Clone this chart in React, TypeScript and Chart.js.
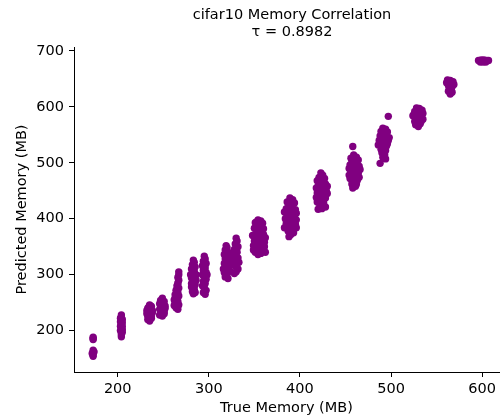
import React, { useEffect, useRef } from "react";
import { Chart, registerables } from "chart.js";

Chart.register(...registerables);

const TITLE_LINES = ["cifar10 Memory Correlation", "τ = 0.8982"];
const X_LABEL = "True Memory (MB)";
const Y_LABEL = "Predicted Memory (MB)";
const X_TICKS = [200, 300, 400, 500, 600];
const Y_TICKS = [200, 300, 400, 500, 600, 700];

const c172 = [[173,188],[173,184],[173,165],[173,161],[173,157],[173,154],[172,159],[174,162],[173,186]];
const c204 = [[204,228],[204,224],[205,220],[203,216],[204,212],[205,208],[204,204],[203,200],[205,197],[204,193],[204,189],[203,208],[205,214],[204,218],[203,222],[205,202],[204,196]];
const c235 = [[235,246],[237,243],[233,240],[236,238],[234,234],[238,232],[232,230],[236,228],[234,225],[237,222],[233,220],[235,217],[238,236],[232,236],[235,231],[236,244],[234,242],[237,226],[233,226],[235,222]];
const c248 = [[249,258],[247,254],[251,252],[246,248],[250,246],[248,242],[252,240],[246,238],[250,235],[248,232],[251,230],[246,228],[249,226],[252,244],[248,250],[250,238],[247,244],[251,234],[248,236]];
const c266 = [[267,305],[267,300],[266,295],[267,290],[266,285],[265,280],[267,276],[264,272],[266,268],[263,264],[267,262],[265,258],[262,255],[266,252],[264,248],[262,245],[267,246],[264,241],[266,238],[263,250],[265,262],[264,256],[266,244],[265,274],[266,282],[263,258]];
const c283 = [[283,326],[284,322],[282,318],[285,314],[281,310],[284,306],[282,302],[285,298],[281,294],[284,290],[282,286],[285,282],[281,278],[284,274],[282,270],[285,268],[283,266],[281,284],[286,300],[283,312],[283,296],[283,280],[286,290],[280,300]];
const c295 = [[295,333],[296,328],[294,324],[297,320],[293,316],[296,312],[294,308],[297,304],[293,300],[295,296],[297,292],[294,288],[296,284],[293,280],[295,276],[297,272],[294,268],[296,265],[295,318],[295,304],[295,290],[295,282],[298,300]];
const c319 = [[319,352],[320,348],[318,344],[321,340],[317,336],[320,332],[318,328],[321,324],[317,320],[320,316],[318,312],[321,308],[317,304],[320,300],[318,296],[321,293],[316,310],[323,318],[319,338],[319,326],[319,306],[323,330],[323,306],[319,298]];
const c330 = [[330,365],[331,360],[329,355],[332,350],[328,345],[331,340],[329,335],[332,330],[328,325],[331,320],[329,315],[332,310],[330,305],[328,302],[333,322],[330,346],[330,330],[330,314],[326,336],[326,318]];
const c355 = [[354,398],[357,396],[351,393],[359,392],[353,388],[356,386],[350,383],[360,382],[354,378],[357,376],[351,372],[360,372],[355,368],[352,364],[358,364],[350,360],[361,358],[354,356],[357,352],[352,348],[359,346],[355,344],[351,340],[357,338],[354,336],[361,350],[349,352],[355,384],[355,360],[348,370],[362,366],[349,344],[362,340],[355,350],[352,394]];
const c388 = [[389,437],[392,434],[386,430],[394,428],[388,424],[391,420],[385,418],[395,416],[389,412],[392,408],[386,406],[394,402],[388,398],[391,394],[385,392],[395,390],[389,386],[392,382],[387,378],[393,375],[390,372],[388,368],[384,400],[396,398],[390,426],[390,404],[390,388],[383,384],[396,384],[383,412],[396,410]];
const c423 = [[423,482],[425,478],[421,474],[427,472],[419,468],[424,465],[428,462],[420,458],[426,455],[422,452],[429,449],[419,446],[425,443],[421,440],[428,437],[423,434],[419,430],[426,428],[422,424],[428,421],[424,418],[420,417],[430,445],[418,455],[424,470],[424,448],[424,428],[418,438],[430,458],[422,462],[426,436]];
const c458 = [[458,529],[459,514],[462,510],[456,508],[464,505],[458,502],[461,498],[455,496],[465,494],[459,490],[462,486],[456,484],[464,481],[458,478],[461,474],[455,472],[463,469],[459,466],[457,462],[461,458],[458,455],[466,488],[454,490],[460,496],[460,482],[460,470],[454,478],[465,474],[457,500],[462,462]];
const c493 = [[497,583],[491,562],[494,560],[489,556],[496,555],[492,551],[488,548],[495,546],[491,542],[497,540],[489,537],[493,534],[486,532],[495,530],[491,526],[494,522],[490,518],[493,514],[491,510],[494,507],[488,499],[498,545],[492,544],[492,530],[492,518],[487,540],[496,534],[489,524]];
const c530 = [[528,598],[531,597],[534,594],[526,592],[530,590],[535,588],[525,586],[529,584],[533,582],[527,579],[531,577],[535,578],[524,584],[529,572],[532,570],[527,568],[530,565],[533,574],[530,582],[530,576],[532,588],[526,574]];
const c565 = [[562,648],[565,647],[568,645],[561,643],[566,641],[569,640],[563,638],[567,636],[564,633],[566,630],[563,628],[567,626],[565,623],[565,638],[565,644]];
const c601 = [[596,683],[599,684],[602,684],[605,683],[607,683],[598,680],[601,680],[604,680],[600,682],[603,682]];

const CLUSTERS = [c172, c204, c235, c248, c266, c283, c295, c319, c330, c355, c388, c423, c458, c493, c530, c565, c601];

const FONT = "'DejaVu Sans', sans-serif";
const PURPLE = "#800080";

const titlePlugin = {
  id: "customTitle",
  afterDraw(chart: any) {
    const ctx = chart.ctx;
    ctx.save();
    ctx.fillStyle = "#000";
    ctx.font = `14.5px ${FONT}`;
    ctx.textAlign = "center";
    ctx.textBaseline = "middle";
    ctx.fillText(TITLE_LINES[0], 292, 15);
    ctx.fillText(TITLE_LINES[1], 292, 32);
    ctx.restore();
  },
};

export default function App() {
  const ref = useRef<HTMLCanvasElement | null>(null);
  useEffect(() => {
    if (!ref.current) return;
    const data = CLUSTERS.flat().map(([x, y]) => ({ x, y }));
    const chart = new Chart(ref.current, {
      type: "scatter",
      data: {
        datasets: [
          {
            data,
            backgroundColor: PURPLE,
            borderColor: PURPLE,
            borderWidth: 0,
            pointRadius: 3.7,
          },
        ],
      },
      options: {
        animation: false,
        responsive: false,
        devicePixelRatio: 1,
        layout: { padding: { top: 47, right: 0, left: 0, bottom: 0 } },
        plugins: { legend: { display: false }, tooltip: { enabled: false }, title: { display: false } },
        scales: {
          x: {
            type: "linear",
            min: 152,
            max: 618.5,
            afterBuildTicks: (s: any) => {
              s.ticks = X_TICKS.map((v) => ({ value: v }));
            },
            afterFit: (s: any) => {
              s.height = 48;
            },
            ticks: { color: "#000", font: { family: FONT, size: 14.5 }, padding: 4, maxRotation: 0 },
            grid: { drawOnChartArea: false, tickLength: 5, color: "#000", tickColor: "#000" },
            border: { color: "#000", width: 1 },
            title: { display: true, text: X_LABEL, color: "#000", font: { family: FONT, size: 14.5 }, padding: { top: 0, bottom: 3 } },
          },
          y: {
            type: "linear",
            min: 126,
            max: 707,
            afterBuildTicks: (s: any) => {
              s.ticks = Y_TICKS.map((v) => ({ value: v }));
            },
            afterFit: (s: any) => {
              s.width = 74;
            },
            ticks: { color: "#000", font: { family: FONT, size: 14.5 }, padding: 5 },
            grid: { drawOnChartArea: false, tickLength: 5, color: "#000", tickColor: "#000" },
            border: { color: "#000", width: 1 },
            title: { display: true, text: Y_LABEL, color: "#000", font: { family: FONT, size: 14.5 }, padding: { top: 14, bottom: 0 } },
          },
        },
      },
      plugins: [titlePlugin],
    });
    return () => chart.destroy();
  }, []);
  return (
    <div style={{ position: "absolute", left: 0, top: 0, width: 503, height: 420, background: "#fff" }}>
      <canvas ref={ref} width={503} height={420} style={{ display: "block", width: 503, height: 420 }} />
    </div>
  );
}
